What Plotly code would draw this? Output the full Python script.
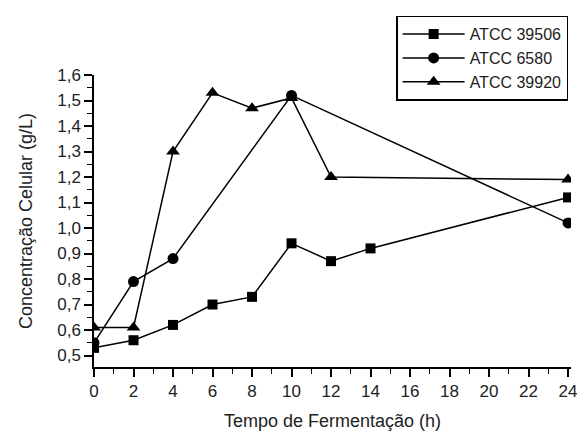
import plotly.graph_objects as go

# Data
hours_39506 = [0, 2, 4, 6, 8, 10, 12, 14, 24]
conc_39506 = [0.53, 0.56, 0.62, 0.70, 0.73, 0.94, 0.87, 0.92, 1.12]

hours_6580 = [0, 2, 4, 10, 24]
conc_6580 = [0.55, 0.79, 0.88, 1.52, 1.02]

hours_39920 = [0, 2, 4, 6, 8, 10, 12, 24]
conc_39920 = [0.61, 0.61, 1.30, 1.53, 1.47, 1.51, 1.20, 1.19]

series_names = ["ATCC 39506", "ATCC 6580", "ATCC 39920"]
x_tickvals = list(range(0, 25, 2))
y_tickvals = [0.5, 0.6, 0.7, 0.8, 0.9, 1.0, 1.1, 1.2, 1.3, 1.4, 1.5, 1.6]

FONT = "Liberation Sans, Arial, sans-serif"

fig = go.Figure()
fig.add_trace(go.Scatter(x=hours_39506, y=conc_39506, name=series_names[0],
                         mode="lines+markers", legendgroup="a",
                         line=dict(color="black", width=1.5),
                         marker=dict(symbol="square", size=10, color="black")))
fig.add_trace(go.Scatter(x=hours_6580, y=conc_6580, name=series_names[1],
                         mode="lines+markers", legendgroup="b",
                         line=dict(color="black", width=1.5),
                         marker=dict(symbol="circle", size=11, color="black")))
fig.add_trace(go.Scatter(x=hours_39920, y=conc_39920, name=series_names[2],
                         mode="lines+markers", legendgroup="c",
                         line=dict(color="black", width=1.5),
                         marker=dict(symbol="triangle-up", size=12, color="black")))

fig.update_layout(
    width=577, height=428,
    margin=dict(l=86, r=8, t=62, b=61),
    paper_bgcolor="white", plot_bgcolor="white",
    separators=", ",
    font=dict(family=FONT, color="#222222", size=17),
    showlegend=True,
    legend=dict(
        x=0.994, y=1.203, xanchor="right", yanchor="top",
        bgcolor="white", bordercolor="black", borderwidth=1.5,
        font=dict(family=FONT, size=16, color="#222222"),
        tracegroupgap=0, itemwidth=62,
    ),
    xaxis=dict(
        range=[0, 24.15], tickvals=x_tickvals,
        showgrid=False, zeroline=False,
        showline=True, linecolor="black", linewidth=1.5,
        ticks="outside", ticklen=8, tickwidth=1.5, tickcolor="black",
        minor=dict(dtick=1, ticks="outside", ticklen=5, tickwidth=1.2, tickcolor="black", showgrid=False),
        tickfont=dict(size=17),
        title=dict(text="Tempo de Fermentação (h)", font=dict(size=18), standoff=14),
    ),
    yaxis=dict(
        range=[0.455, 1.6], tickvals=y_tickvals, tickformat=".1f",
        showgrid=False, zeroline=False,
        showline=True, linecolor="black", linewidth=1.5,
        ticks="outside", ticklen=8, tickwidth=1.5, tickcolor="black",
        minor=dict(dtick=0.05, tick0=0.5, ticks="outside", ticklen=5, tickwidth=1.2, tickcolor="black", showgrid=False),
        tickfont=dict(size=17),
        title=dict(text="Concentração Celular (g/L)", font=dict(size=18), standoff=20),
    ),
)

fig.write_html("out.html")
